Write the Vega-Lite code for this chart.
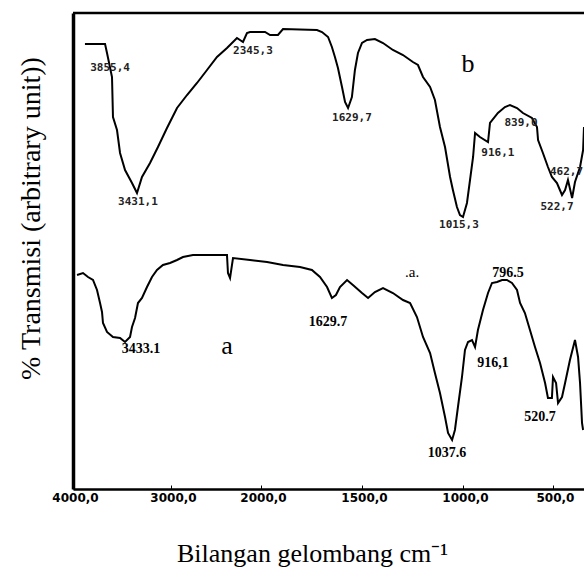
{
  "$schema": "https://vega.github.io/schema/vega-lite/v6.json",
  "width": 511,
  "height": 476,
  "autosize": "none",
  "padding": {"left": 73, "top": 13, "right": 0, "bottom": 85},
  "background": "white",
  "config": {"view": {"stroke": null}},
  "datasets": {
    "curves": [
      {"s": "b", "w": 3878, "t": 445}, {"s": "b", "w": 3755, "t": 445}, {"s": "b", "w": 3673, "t": 445},
      {"s": "b", "w": 3653, "t": 436}, {"s": "b", "w": 3602, "t": 412}, {"s": "b", "w": 3592, "t": 372},
      {"s": "b", "w": 3551, "t": 359}, {"s": "b", "w": 3520, "t": 336}, {"s": "b", "w": 3469, "t": 319},
      {"s": "b", "w": 3398, "t": 306}, {"s": "b", "w": 3347, "t": 296}, {"s": "b", "w": 3296, "t": 312},
      {"s": "b", "w": 3214, "t": 326}, {"s": "b", "w": 3133, "t": 342}, {"s": "b", "w": 3041, "t": 361},
      {"s": "b", "w": 2933, "t": 381}, {"s": "b", "w": 2822, "t": 394}, {"s": "b", "w": 2711, "t": 406},
      {"s": "b", "w": 2600, "t": 419}, {"s": "b", "w": 2489, "t": 432}, {"s": "b", "w": 2378, "t": 441},
      {"s": "b", "w": 2267, "t": 451}, {"s": "b", "w": 2200, "t": 447}, {"s": "b", "w": 2156, "t": 456},
      {"s": "b", "w": 2122, "t": 457}, {"s": "b", "w": 1980, "t": 457}, {"s": "b", "w": 1955, "t": 454},
      {"s": "b", "w": 1916, "t": 454}, {"s": "b", "w": 1891, "t": 460}, {"s": "b", "w": 1723, "t": 459},
      {"s": "b", "w": 1698, "t": 457}, {"s": "b", "w": 1668, "t": 452}, {"s": "b", "w": 1649, "t": 442},
      {"s": "b", "w": 1634, "t": 432}, {"s": "b", "w": 1619, "t": 421}, {"s": "b", "w": 1599, "t": 402},
      {"s": "b", "w": 1584, "t": 387}, {"s": "b", "w": 1569, "t": 381}, {"s": "b", "w": 1550, "t": 392},
      {"s": "b", "w": 1535, "t": 419}, {"s": "b", "w": 1520, "t": 436}, {"s": "b", "w": 1500, "t": 446},
      {"s": "b", "w": 1475, "t": 449}, {"s": "b", "w": 1436, "t": 450}, {"s": "b", "w": 1396, "t": 446},
      {"s": "b", "w": 1347, "t": 439}, {"s": "b", "w": 1297, "t": 434}, {"s": "b", "w": 1248, "t": 427},
      {"s": "b", "w": 1223, "t": 424}, {"s": "b", "w": 1198, "t": 412}, {"s": "b", "w": 1163, "t": 402},
      {"s": "b", "w": 1139, "t": 389}, {"s": "b", "w": 1114, "t": 362}, {"s": "b", "w": 1089, "t": 342},
      {"s": "b", "w": 1064, "t": 312}, {"s": "b", "w": 1050, "t": 299}, {"s": "b", "w": 1030, "t": 282},
      {"s": "b", "w": 1015, "t": 274}, {"s": "b", "w": 1000, "t": 272}, {"s": "b", "w": 978, "t": 286},
      {"s": "b", "w": 961, "t": 309}, {"s": "b", "w": 944, "t": 332}, {"s": "b", "w": 933, "t": 356},
      {"s": "b", "w": 906, "t": 352}, {"s": "b", "w": 861, "t": 347}, {"s": "b", "w": 850, "t": 366},
      {"s": "b", "w": 806, "t": 376}, {"s": "b", "w": 767, "t": 382}, {"s": "b", "w": 739, "t": 384},
      {"s": "b", "w": 700, "t": 381}, {"s": "b", "w": 667, "t": 376}, {"s": "b", "w": 617, "t": 371},
      {"s": "b", "w": 589, "t": 362}, {"s": "b", "w": 583, "t": 349}, {"s": "b", "w": 556, "t": 336},
      {"s": "b", "w": 528, "t": 322}, {"s": "b", "w": 506, "t": 312}, {"s": "b", "w": 478, "t": 306},
      {"s": "b", "w": 450, "t": 294}, {"s": "b", "w": 433, "t": 299}, {"s": "b", "w": 417, "t": 309},
      {"s": "b", "w": 394, "t": 291}, {"s": "b", "w": 378, "t": 307}, {"s": "b", "w": 350, "t": 322},
      {"s": "b", "w": 333, "t": 339}, {"s": "b", "w": 328, "t": 362},
      {"s": "a", "w": 3959, "t": 214}, {"s": "a", "w": 3898, "t": 216}, {"s": "a", "w": 3847, "t": 212},
      {"s": "a", "w": 3796, "t": 209}, {"s": "a", "w": 3755, "t": 199}, {"s": "a", "w": 3724, "t": 186},
      {"s": "a", "w": 3704, "t": 177}, {"s": "a", "w": 3694, "t": 166}, {"s": "a", "w": 3653, "t": 157},
      {"s": "a", "w": 3592, "t": 152}, {"s": "a", "w": 3520, "t": 151}, {"s": "a", "w": 3469, "t": 147},
      {"s": "a", "w": 3418, "t": 152}, {"s": "a", "w": 3398, "t": 162}, {"s": "a", "w": 3367, "t": 171},
      {"s": "a", "w": 3337, "t": 186}, {"s": "a", "w": 3296, "t": 191}, {"s": "a", "w": 3245, "t": 202},
      {"s": "a", "w": 3194, "t": 212}, {"s": "a", "w": 3143, "t": 219}, {"s": "a", "w": 3082, "t": 224},
      {"s": "a", "w": 3010, "t": 226}, {"s": "a", "w": 2933, "t": 229}, {"s": "a", "w": 2867, "t": 232},
      {"s": "a", "w": 2756, "t": 234}, {"s": "a", "w": 2567, "t": 234}, {"s": "a", "w": 2378, "t": 234},
      {"s": "a", "w": 2367, "t": 216}, {"s": "a", "w": 2344, "t": 211}, {"s": "a", "w": 2311, "t": 231},
      {"s": "a", "w": 2122, "t": 229}, {"s": "a", "w": 1970, "t": 227}, {"s": "a", "w": 1891, "t": 224},
      {"s": "a", "w": 1807, "t": 222}, {"s": "a", "w": 1748, "t": 219}, {"s": "a", "w": 1708, "t": 212},
      {"s": "a", "w": 1673, "t": 202}, {"s": "a", "w": 1649, "t": 191}, {"s": "a", "w": 1629, "t": 194},
      {"s": "a", "w": 1609, "t": 202}, {"s": "a", "w": 1574, "t": 209}, {"s": "a", "w": 1545, "t": 204},
      {"s": "a", "w": 1500, "t": 196}, {"s": "a", "w": 1470, "t": 191}, {"s": "a", "w": 1436, "t": 197},
      {"s": "a", "w": 1396, "t": 201}, {"s": "a", "w": 1347, "t": 196}, {"s": "a", "w": 1297, "t": 189},
      {"s": "a", "w": 1262, "t": 186}, {"s": "a", "w": 1228, "t": 172}, {"s": "a", "w": 1198, "t": 152},
      {"s": "a", "w": 1163, "t": 136}, {"s": "a", "w": 1139, "t": 116}, {"s": "a", "w": 1114, "t": 96},
      {"s": "a", "w": 1089, "t": 72}, {"s": "a", "w": 1074, "t": 56}, {"s": "a", "w": 1054, "t": 49},
      {"s": "a", "w": 1040, "t": 59}, {"s": "a", "w": 1025, "t": 82}, {"s": "a", "w": 1005, "t": 112},
      {"s": "a", "w": 989, "t": 139}, {"s": "a", "w": 972, "t": 147}, {"s": "a", "w": 950, "t": 149},
      {"s": "a", "w": 933, "t": 142}, {"s": "a", "w": 917, "t": 159}, {"s": "a", "w": 889, "t": 179},
      {"s": "a", "w": 861, "t": 196}, {"s": "a", "w": 839, "t": 206}, {"s": "a", "w": 811, "t": 207},
      {"s": "a", "w": 783, "t": 209}, {"s": "a", "w": 756, "t": 209}, {"s": "a", "w": 728, "t": 206},
      {"s": "a", "w": 700, "t": 199}, {"s": "a", "w": 683, "t": 186}, {"s": "a", "w": 656, "t": 176},
      {"s": "a", "w": 628, "t": 159}, {"s": "a", "w": 600, "t": 142}, {"s": "a", "w": 572, "t": 126},
      {"s": "a", "w": 544, "t": 106}, {"s": "a", "w": 528, "t": 91}, {"s": "a", "w": 506, "t": 91},
      {"s": "a", "w": 500, "t": 112}, {"s": "a", "w": 483, "t": 106}, {"s": "a", "w": 472, "t": 86},
      {"s": "a", "w": 450, "t": 92}, {"s": "a", "w": 433, "t": 106}, {"s": "a", "w": 406, "t": 129},
      {"s": "a", "w": 378, "t": 149}, {"s": "a", "w": 361, "t": 132}, {"s": "a", "w": 350, "t": 106},
      {"s": "a", "w": 339, "t": 66}, {"s": "a", "w": 333, "t": 59}
    ],
    "labelsB": [
      {"txt": "3855,4", "w": 3622, "t": 421},
      {"txt": "2345,3", "w": 2089, "t": 438},
      {"txt": "1629,7", "w": 1550, "t": 371},
      {"txt": "3431,1", "w": 3337, "t": 287},
      {"txt": "1015,3", "w": 1020, "t": 264},
      {"txt": "916,1", "w": 806, "t": 336},
      {"txt": "839,0", "w": 678, "t": 366},
      {"txt": "522,7", "w": 478, "t": 282},
      {"txt": "462,7", "w": 425, "t": 317}
    ],
    "labelsA": [
      {"txt": "3433.1", "w": 3306, "t": 140},
      {"txt": "1629.7", "w": 1668, "t": 167},
      {"txt": "796.5", "w": 750, "t": 216},
      {"txt": "916,1", "w": 833, "t": 126},
      {"txt": "1037.6", "w": 1079, "t": 36},
      {"txt": "520.7", "w": 572, "t": 72}
    ],
    "names": [
      {"txt": "a", "w": 2378, "t": 143},
      {"txt": "b", "w": 972, "t": 425}
    ],
    "small": [
      {"txt": ".a.", "w": 1252, "t": 217}
    ],
    "top": [{"t": 476}]
  },
  "encoding": {
    "x": {
      "field": "w", "type": "quantitative",
      "scale": {"domain": [4000, 3000, 2000, 1500, 1000, 500, 328], "range": [0, 98, 188, 289, 390, 480, 511], "nice": false, "zero": false},
      "axis": {
        "values": [4000, 3000, 2000, 1500, 1000, 500],
        "labelExpr": "replace(format(datum.value, '.1f'), '.', ',')",
        "grid": false,
        "domainColor": "black", "domainWidth": 2.5,
        "tickColor": "black", "tickSize": -4, "tickWidth": 1,
        "labelFont": "DejaVu Sans", "labelFontWeight": "bold", "labelFontSize": 12, "labelColor": "black",
        "labelPadding": 7, "labelFlush": false, "labelOffset": 2,
        "title": "Bilangan gelombang cm⁻¹",
        "titleFont": "Liberation Serif", "titleFontSize": 26, "titleFontWeight": "normal", "titleColor": "black",
        "titleX": 239, "titleY": 72, "titleAlign": "center", "titleBaseline": "alphabetic"
      }
    },
    "y": {
      "field": "t", "type": "quantitative",
      "scale": {"domain": [0, 476], "nice": false, "zero": false},
      "axis": {
        "labels": false, "ticks": false, "grid": false,
        "domainColor": "black", "domainWidth": 3.5,
        "title": "% Transmisi (arbitrary unit))",
        "titleFont": "Liberation Serif", "titleFontSize": 28, "titleFontWeight": "normal", "titleColor": "black",
        "titleAngle": 270, "titleX": -34, "titleY": 205, "titleAlign": "center", "titleBaseline": "alphabetic"
      }
    }
  },
  "layer": [
    {
      "data": {"name": "top"},
      "mark": {"type": "rule", "color": "black", "strokeWidth": 2.5},
      "encoding": {"x": null, "y": {"field": "t", "type": "quantitative"}}
    },
    {
      "data": {"name": "curves"},
      "mark": {"type": "line", "color": "black", "strokeWidth": 2, "clip": true},
      "encoding": {"detail": {"field": "s"}}
    },
    {
      "data": {"name": "labelsB"},
      "mark": {"type": "text", "font": "DejaVu Sans Mono", "fontWeight": "bold", "fontSize": 11, "color": "#222"},
      "encoding": {"text": {"field": "txt"}}
    },
    {
      "data": {"name": "labelsA"},
      "mark": {"type": "text", "font": "Liberation Serif", "fontWeight": "bold", "fontSize": 14, "color": "black"},
      "encoding": {"text": {"field": "txt"}}
    },
    {
      "data": {"name": "names"},
      "mark": {"type": "text", "font": "Liberation Serif", "fontSize": 26, "color": "black"},
      "encoding": {"text": {"field": "txt"}}
    },
    {
      "data": {"name": "small"},
      "mark": {"type": "text", "font": "Liberation Serif", "fontSize": 15, "color": "black"},
      "encoding": {"text": {"field": "txt"}}
    }
  ]
}
